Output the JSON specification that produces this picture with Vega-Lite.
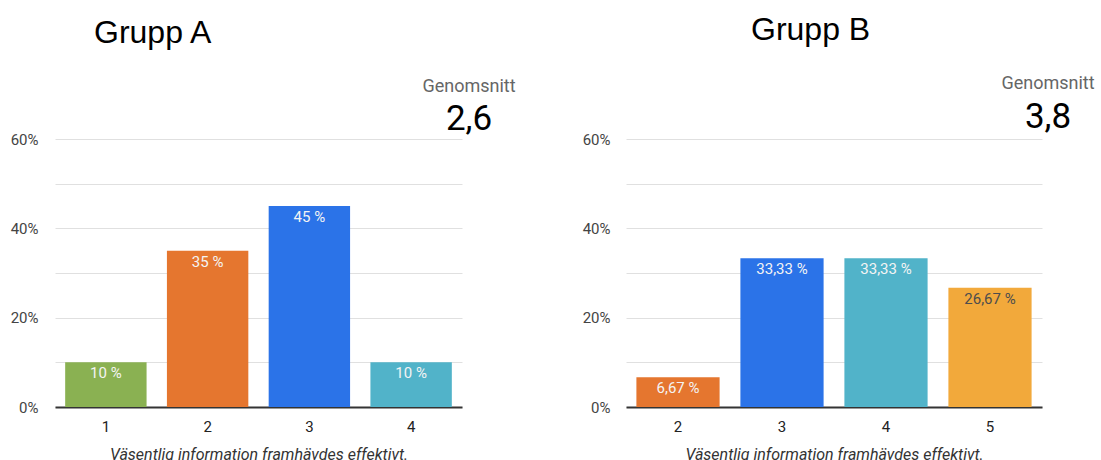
{
  "$schema": "https://vega.github.io/schema/vega-lite/v6.json",
  "background": "white",
  "padding": {"left": 10, "top": 14, "right": 0, "bottom": 0},
  "bounds": "flush",
  "spacing": 164,
  "config": {
    "view": {"stroke": null},
    "font": "Roboto",
    "title": {"font": "Liberation Sans", "fontSize": 32, "fontWeight": "normal", "color": "#000000", "anchor": "start", "frame": "group", "offset": 28},
    "axis": {"ticks": false, "labelFont": "Roboto", "labelFontSize": 15, "labelColor": "#444444", "gridColor": "#e0e0e0", "gridWidth": 1}
  },
  "datasets": {
    "a": [
      {"svar": 1, "andel": 0.10, "etikett": "10 %"},
      {"svar": 2, "andel": 0.35, "etikett": "35 %"},
      {"svar": 3, "andel": 0.45, "etikett": "45 %"},
      {"svar": 4, "andel": 0.10, "etikett": "10 %"}
    ],
    "b": [
      {"svar": 2, "andel": 0.0667, "etikett": "6,67 %"},
      {"svar": 3, "andel": 0.3333, "etikett": "33,33 %"},
      {"svar": 4, "andel": 0.3333, "etikett": "33,33 %"},
      {"svar": 5, "andel": 0.2667, "etikett": "26,67 %"}
    ],
    "medelA": [{"rubrik": "Genomsnitt", "medel": "2,6"}],
    "medelB": [{"rubrik": "Genomsnitt", "medel": "3,8"}]
  },
  "hconcat": [
    {
      "width": 407,
      "height": 268,
      "title": {"text": "Grupp A", "dx": 39},
      "layer": [
        {
          "data": {"name": "a"},
          "mark": {"type": "bar"},
          "encoding": {
            "x": {"field": "svar", "type": "ordinal", "scale": {"paddingInner": 0.2, "paddingOuter": 0.1},
              "axis": {"labelAngle": 0, "labelPadding": 12, "labelColor": "#222222", "domain": true, "domainColor": "#333333", "domainWidth": 2, "grid": false,
                "title": "Väsentlig information framhävdes effektivt.", "titleFont": "Roboto", "titleFontStyle": "italic", "titleFontWeight": "normal", "titleFontSize": 16, "titleColor": "#333333", "titlePadding": 12}},
            "y": {"field": "andel", "type": "quantitative", "scale": {"domain": [0, 0.6]},
              "axis": {"values": [0, 0.1, 0.2, 0.3, 0.4, 0.5, 0.6], "labelExpr": "round(datum.value*100) % 20 == 0 ? round(datum.value*100) + '%' : ''", "labelPadding": 17, "domain": false, "grid": true, "title": null}},
            "color": {"field": "svar", "type": "nominal", "scale": {"domain": [1, 2, 3, 4, 5], "range": ["#8ab152", "#e5762f", "#2b73e8", "#51b3c9", "#f2a93b"]}, "legend": null}
          }
        },
        {
          "data": {"name": "a"},
          "mark": {"type": "text", "baseline": "alphabetic", "dy": 16, "fontSize": 15, "font": "Roboto"},
          "encoding": {
            "x": {"field": "svar", "type": "ordinal"},
            "y": {"field": "andel", "type": "quantitative"},
            "text": {"field": "etikett"},
            "color": {"condition": {"test": "datum.svar == 5", "value": "#4d4d4d"}, "value": "#f4f4f4"}
          }
        },
        {
          "data": {"name": "medelA"},
          "mark": {"type": "text", "align": "center", "baseline": "alphabetic", "dx": 7, "dy": -47, "fontSize": 18, "font": "Roboto", "color": "#666666"},
          "encoding": {"x": {"value": "width"}, "y": {"value": 0}, "text": {"field": "rubrik"}}
        },
        {
          "data": {"name": "medelA"},
          "mark": {"type": "text", "align": "center", "baseline": "alphabetic", "dx": 7, "dy": -9, "fontSize": 35, "font": "Roboto", "color": "#000000"},
          "encoding": {"x": {"value": "width"}, "y": {"value": 0}, "text": {"field": "medel"}}
        }
      ]
    },
    {
      "width": 416,
      "height": 268,
      "title": {"text": "Grupp B", "dx": 125},
      "layer": [
        {
          "data": {"name": "b"},
          "mark": {"type": "bar"},
          "encoding": {
            "x": {"field": "svar", "type": "ordinal", "scale": {"paddingInner": 0.2, "paddingOuter": 0.1},
              "axis": {"labelAngle": 0, "labelPadding": 12, "labelColor": "#222222", "domain": true, "domainColor": "#333333", "domainWidth": 2, "grid": false,
                "title": "Väsentlig information framhävdes effektivt.", "titleFont": "Roboto", "titleFontStyle": "italic", "titleFontWeight": "normal", "titleFontSize": 16, "titleColor": "#333333", "titlePadding": 12}},
            "y": {"field": "andel", "type": "quantitative", "scale": {"domain": [0, 0.6]},
              "axis": {"values": [0, 0.1, 0.2, 0.3, 0.4, 0.5, 0.6], "labelExpr": "round(datum.value*100) % 20 == 0 ? round(datum.value*100) + '%' : ''", "labelPadding": 16, "domain": false, "grid": true, "title": null}},
            "color": {"field": "svar", "type": "nominal", "scale": {"domain": [1, 2, 3, 4, 5], "range": ["#8ab152", "#e5762f", "#2b73e8", "#51b3c9", "#f2a93b"]}, "legend": null}
          }
        },
        {
          "data": {"name": "b"},
          "mark": {"type": "text", "baseline": "alphabetic", "dy": 16, "fontSize": 15, "font": "Roboto"},
          "encoding": {
            "x": {"field": "svar", "type": "ordinal"},
            "y": {"field": "andel", "type": "quantitative"},
            "text": {"field": "etikett"},
            "color": {"condition": {"test": "datum.svar == 5", "value": "#4d4d4d"}, "value": "#f4f4f4"}
          }
        },
        {
          "data": {"name": "medelB"},
          "mark": {"type": "text", "align": "center", "baseline": "alphabetic", "dx": 6, "dy": -50, "fontSize": 18, "font": "Roboto", "color": "#666666"},
          "encoding": {"x": {"value": "width"}, "y": {"value": 0}, "text": {"field": "rubrik"}}
        },
        {
          "data": {"name": "medelB"},
          "mark": {"type": "text", "align": "center", "baseline": "alphabetic", "dx": 6, "dy": -11, "fontSize": 35, "font": "Roboto", "color": "#000000"},
          "encoding": {"x": {"value": "width"}, "y": {"value": 0}, "text": {"field": "medel"}}
        }
      ]
    }
  ]
}
